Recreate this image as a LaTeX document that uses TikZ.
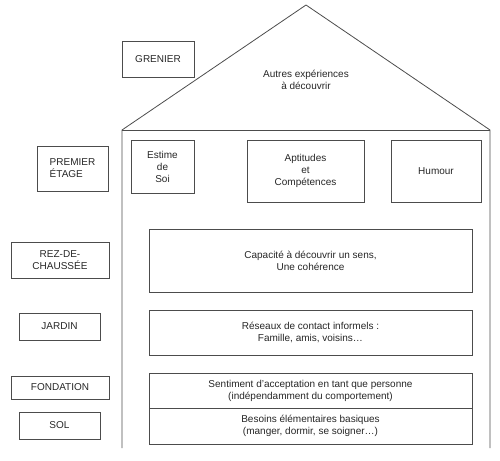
\documentclass[tikz,border=0pt]{standalone}
\usepackage{fontspec}
\setmainfont{Liberation Sans}
\begin{document}
\begin{tikzpicture}[x=1pt,y=-1pt,
  every node/.style={font=\fontsize{10}{12}\selectfont, text=black!85},
  box/.style={draw=black!70, line width=0.8pt, align=center, inner sep=2pt},
  wall/.style={draw=black!70, line width=0.8pt}]
\useasboundingbox (0,0) rectangle (500,460);
% house
\coordinate (bl) at (122,448);
\coordinate (el) at (122,130);
\coordinate (apex) at (306,5);
\coordinate (er) at (490,130);
\coordinate (br) at (490,448);
\draw[wall] (bl) -- (el) -- (apex) -- (er) -- (br);
\draw[wall] (el) -- (er);
\node[align=center] (roof) at (306,80) {Autres expériences\\à découvrir};
% left labels
\node[box, minimum width=72pt, minimum height=36pt] (gren) at (158,59) {GRENIER};
\node[box, align=left, minimum width=71pt, minimum height=45pt] (prem) at (72.5,168.5) {PREMIER\\ÉTAGE};
\node[box, minimum width=98pt, minimum height=36pt] (rez) at (60,260) {REZ-DE-\\CHAUSSÉE};
\node[box, minimum width=81pt, minimum height=27pt] (jar) at (59.5,326.5) {JARDIN};
\node[box, minimum width=98pt, minimum height=23pt] (fond) at (60,387.5) {FONDATION};
\node[box, minimum width=81pt, minimum height=27pt] (sol) at (59.5,425.5) {SOL};
% first floor
\node[box, minimum width=63pt, minimum height=53pt] (est) at (162.5,166.5) {Estime\\de\\Soi};
\node[box, minimum width=117pt, minimum height=62pt] (apt) at (305.5,171) {Aptitudes\\et\\Compétences};
\node[box, minimum width=90pt, minimum height=62pt] (hum) at (436,171) {Humour};
% lower floors
\node[box, minimum width=323pt, minimum height=63pt] (cap) at (310.5,260.5) {Capacité à découvrir un sens,\\Une cohérence};
\node[box, minimum width=323pt, minimum height=45pt] (res) at (310.5,332.5) {Réseaux de contact informels :\\Famille, amis, voisins…};
\node[box, minimum width=323pt, minimum height=35pt] (sent) at (310.5,390.5) {Sentiment d’acceptation en tant que personne\\(indépendamment du comportement)};
\node[box, minimum width=323pt, minimum height=36pt] (bes) at (310.5,426) {Besoins élémentaires basiques\\(manger, dormir, se soigner…)};
\end{tikzpicture}
\end{document}
